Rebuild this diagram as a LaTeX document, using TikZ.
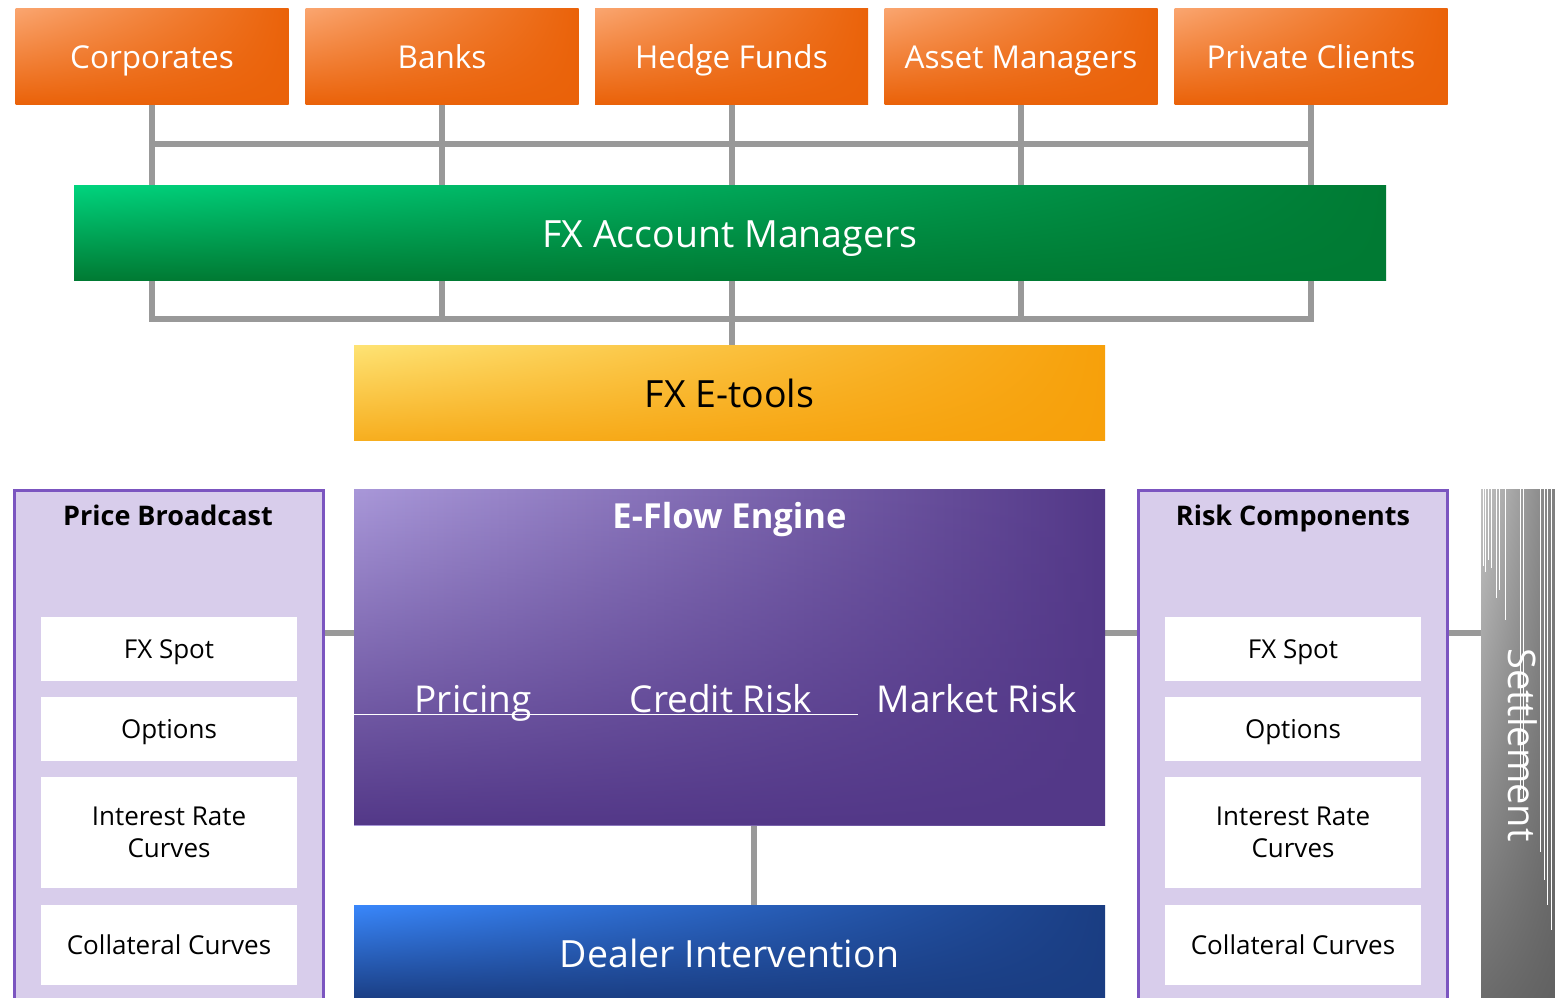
\documentclass[tikz,border=0pt]{standalone}
\usepackage{fontspec}
\setmainfont{Open Sans}
\usetikzlibrary{backgrounds,shadings,fadings}

% palette
\definecolor{orgL}{HTML}{FAA56F}
\definecolor{orgD}{HTML}{EA6209}
\definecolor{grnL}{HTML}{00D47E}
\definecolor{grnD}{HTML}{007A33}
\definecolor{yelL}{HTML}{FEE374}
\definecolor{yelD}{HTML}{F7A00A}
\definecolor{yelB}{HTML}{F7AE1F}
\definecolor{purL}{HTML}{A998D9}
\definecolor{purM}{HTML}{9986C8}
\definecolor{purD}{HTML}{533888}
\definecolor{bluL}{HTML}{3987FB}
\definecolor{bluD}{HTML}{1A3D82}
\definecolor{panelFill}{HTML}{D8CDEB}
\definecolor{panelEdge}{HTML}{7B55C0}
\definecolor{lineGray}{HTML}{999999}
\definecolor{setUL}{HTML}{C2C2C2}
\definecolor{setUR}{HTML}{7C7C7C}
\definecolor{setLL}{HTML}{6A6A6A}
\definecolor{setLR}{HTML}{606060}

% darkening towards the bottom of the engine block
\tikzfading[name=lowfade, top color=transparent!100, middle color=transparent!75,
  bottom color=transparent!0]

\tikzset{
  fs/.style={font=\fontsize{#1}{#1}\selectfont},
  % baseline sits half the text height below the centre
  band/.style={inner sep=0pt, minimum height=95pt, text=white,
    text height=29pt, text depth=0pt, font=\fontsize{37.5}{45}\selectfont},
  clientbox/.style={band, minimum width=273pt, text height=23pt,
    upper left=orgL, upper right=orgD, lower left=orgD, lower right=orgD,
    font=\fontsize{31.5}{38}\selectfont},
  panel/.style={draw=panelEdge, line width=3pt, fill=panelFill, inner sep=0pt,
    minimum width=309pt, minimum height=520pt},
  panelhead/.style={font=\bfseries\fontsize{27}{32}\selectfont, anchor=base},
  itembox/.style={fill=white, inner sep=0pt, minimum width=256pt, align=center,
    font=\fontsize{26}{32}\selectfont},
  oneline/.style={text height=19pt, text depth=0pt},
  conn/.style={draw=lineGray, line width=6pt, line join=miter},
  streak/.style={draw=white, line width=0.6pt},
}

\begin{document}
\begin{tikzpicture}[x=1pt, y=-1pt]
\useasboundingbox (0,0) rectangle (1555,998);
\clip (0,0) rectangle (1555,998);

% client segments
\node[clientbox] (corp)  at (152,56.5)   {Corporates};
\node[clientbox] (bank)  at (442,56.5)   {Banks};
\node[clientbox] (hedge) at (731.5,56.5) {Hedge Funds};
\node[clientbox] (asset) at (1021,56.5)  {Asset Managers};
\node[clientbox] (priv)  at (1311,56.5)  {Private Clients};

% account managers and e-tools
\node[band, minimum width=1312pt, upper left=grnL, upper right=grnD,
      lower left=grnD, lower right=grnD]
      (fxam) at (730,232.5) {FX Account Managers};
\node[band, minimum width=751pt, upper left=yelL, upper right=yelD,
      lower left=yelB, lower right=yelD, text=black]
      (etools) at (729.5,392.5) {FX E-tools};

% engine
\node[inner sep=0pt, minimum width=751pt, minimum height=336pt,
      left color=purL, middle color=purM, right color=purD,
      path picture={\fill[purD, path fading=lowfade]
        (path picture bounding box.south west) rectangle (path picture bounding box.north east);}]
      (eflow) at (729.5,657) {};
\node[text=white, anchor=base, font=\bfseries\fontsize{34.5}{41}\selectfont]
      (eflowtitle) at (729.5,528) {E-Flow Engine};
\node[text=white, anchor=base, fs=37] (pricing) at (473,712) {Pricing};
\node[text=white, anchor=base, fs=37] (credit)  at (721,712) {Credit Risk};
\node[text=white, anchor=base, fs=37] (market)  at (977,712) {Market Risk};
\draw[white, line width=0.8pt] (eflow.west |- 0,714) -- (858,714);

% dealer intervention
\node[band, minimum width=751pt, upper left=bluL, upper right=bluD,
      lower left=bluD, lower right=bluD]
      (dealer) at (729.5,952.5) {Dealer Intervention};

% side panels
\node[panel] (pb) at (168.5,750) {};
\node[panelhead] (pbtitle) at (168,525) {Price Broadcast};
\node[itembox, oneline, minimum height=64pt]  (pb1) at (169,649)   {FX Spot};
\node[itembox, oneline, minimum height=64pt]  (pb2) at (169,729)   {Options};
\node[itembox, minimum height=111pt]          (pb3) at (169,832.5) {Interest Rate\\Curves};
\node[itembox, oneline, minimum height=80pt]  (pb4) at (169,945)   {Collateral Curves};

\node[panel] (rc) at (1293,750) {};
\node[panelhead] (rctitle) at (1293,525) {Risk Components};
\node[itembox, oneline, minimum height=64pt]  (rc1) at (1293,649)   {FX Spot};
\node[itembox, oneline, minimum height=64pt]  (rc2) at (1293,729)   {Options};
\node[itembox, minimum height=111pt]          (rc3) at (1293,832.5) {Interest Rate\\Curves};
\node[itembox, oneline, minimum height=80pt]  (rc4) at (1293,945)   {Collateral Curves};

% settlement column
\node[inner sep=0pt, minimum width=78pt, minimum height=520pt,
      upper left=setUL, upper right=setUR, lower left=setLL, lower right=setLR]
      (settle) at (1520,749) {};
\foreach \x/\y in {1483/566,1485/572,1488/560,1491/568,1496/598,1499/590,1505/620,
                   1520/790,1523/798,1540/852,1544/880,1547/905,1551/930}
  \draw[streak] (\x,489) -- (\x,\y);
\node[text=white, rotate=-90, anchor=base, fs=38] (settlelabel) at (1508,745) {Settlement};

% connectors
\coordinate (topbus) at (0,144);
\coordinate (botbus) at (0,318.5);
\coordinate (midrow) at (0,632.5);
\coordinate (tap) at (754,0);
\begin{scope}[on background layer]
  \foreach \c in {corp,bank,hedge,asset,priv}
    \draw[conn] (\c.south) -- (\c.south |- fxam.north);
  \draw[conn] (corp.south |- topbus) -- (priv.south |- topbus);
  \draw[conn] (corp.south |- fxam.south) |- (botbus -| priv.south) -- (priv.south |- fxam.south);
  \foreach \c in {bank,hedge,asset}
    \draw[conn] (\c.south |- fxam.south) -- (\c.south |- botbus);
  \draw[conn] (hedge.south |- botbus) -- (hedge.south |- etools.north);
  \draw[conn] (pb.east |- midrow) -- (eflow.west |- midrow);
  \draw[conn] (eflow.east |- midrow) -- (rc.west |- midrow);
  \draw[conn] (rc.east |- midrow) -- (settle.west |- midrow);
  \draw[conn] (eflow.south -| tap) -- (dealer.north -| tap);
\end{scope}
\end{tikzpicture}
\end{document}
